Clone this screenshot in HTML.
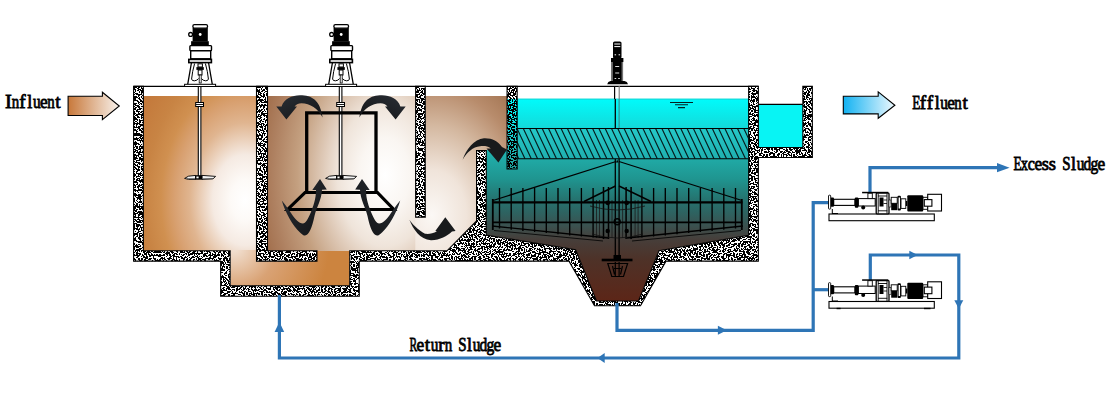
<!DOCTYPE html>
<html><head><meta charset="utf-8"><style>
html,body{margin:0;padding:0;background:#fff;width:1117px;height:415px;overflow:hidden}
svg{display:block}
text{font-family:"Liberation Serif",serif}
</style></head><body>
<svg width="1117" height="415" viewBox="0 0 1117 415">
<rect width="1117" height="415" fill="#fff"/>
<defs>
<radialGradient id="gT1" gradientUnits="userSpaceOnUse" cx="245" cy="200" r="120" gradientTransform="translate(245,200) scale(1,1.4) translate(-245,-200)">
 <stop offset="0" stop-color="#ffffff"/><stop offset="0.12" stop-color="#fdfaf7"/><stop offset="0.27" stop-color="#f5eae2"/>
 <stop offset="0.46" stop-color="#e0b590"/><stop offset="0.59" stop-color="#d8a070"/><stop offset="0.7" stop-color="#d09050"/>
 <stop offset="0.83" stop-color="#c88444"/><stop offset="1" stop-color="#c47a3c"/></radialGradient>
<radialGradient id="gSump" gradientUnits="userSpaceOnUse" cx="234" cy="246" r="95">
 <stop offset="0" stop-color="#f4e6da"/><stop offset="0.45" stop-color="#d9a274"/><stop offset="1" stop-color="#cc843f"/></radialGradient>
<radialGradient id="gT2" gradientUnits="userSpaceOnUse" cx="385" cy="175" r="125" gradientTransform="translate(385,175) scale(1,1.5) translate(-385,-175)">
 <stop offset="0" stop-color="#ffffff"/><stop offset="0.2" stop-color="#faf6f2"/><stop offset="0.38" stop-color="#efe4da"/>
 <stop offset="0.5" stop-color="#dfcab8"/><stop offset="0.7" stop-color="#c4a080"/><stop offset="0.9" stop-color="#ae8060"/><stop offset="1" stop-color="#a47250"/></radialGradient>
<radialGradient id="gT3" gradientUnits="userSpaceOnUse" cx="432" cy="215" r="115" gradientTransform="translate(432,215) scale(1,1.3) translate(-432,-215)">
 <stop offset="0" stop-color="#fbf8f5"/><stop offset="0.3" stop-color="#f0e4da"/><stop offset="0.6" stop-color="#d4b8a0"/>
 <stop offset="0.85" stop-color="#b88c6c"/><stop offset="1" stop-color="#a87a58"/></radialGradient>
<linearGradient id="gCl" gradientUnits="userSpaceOnUse" x1="0" y1="98" x2="0" y2="300">
 <stop offset="0" stop-color="#00fcfc"/><stop offset="0.14" stop-color="#12dcdc"/>
 <stop offset="0.3" stop-color="#20aaa6"/><stop offset="0.4" stop-color="#1f9590"/><stop offset="0.5" stop-color="#257470"/>
 <stop offset="0.57" stop-color="#2e6260"/><stop offset="0.63" stop-color="#3a5250"/><stop offset="0.7" stop-color="#463e3a"/>
 <stop offset="0.8" stop-color="#4e3228"/><stop offset="1" stop-color="#5c2618"/></linearGradient>
<linearGradient id="gHat" x1="0" y1="0" x2="0" y2="1"><stop offset="0" stop-color="#25c8c8"/><stop offset="1" stop-color="#1fb0b0"/></linearGradient>
<linearGradient id="gIn" x1="0" y1="0" x2="1" y2="0">
 <stop offset="0" stop-color="#c8783a"/><stop offset="1" stop-color="#f8f2ec"/></linearGradient>
<linearGradient id="gEf" x1="0" y1="0" x2="1" y2="0">
 <stop offset="0" stop-color="#12b2f2"/><stop offset="1" stop-color="#eef8fd"/></linearGradient>
<linearGradient id="gArr" x1="0" y1="0" x2="1" y2="1">
 <stop offset="0" stop-color="#2a2f36"/><stop offset="1" stop-color="#121315"/></linearGradient>
<filter id="nz" x="0" y="0" width="1117" height="415" filterUnits="userSpaceOnUse" color-interpolation-filters="sRGB">
 <feTurbulence type="fractalNoise" baseFrequency="0.6" numOctaves="2" seed="7" result="t"/>
 <feColorMatrix in="t" type="matrix" values="0 0 0 0 0  0 0 0 0 0  0 0 0 0 0  1 0 0 0 0.01"/>
 <feComponentTransfer><feFuncA type="discrete" tableValues="0 1"/></feComponentTransfer>
</filter>

<clipPath id="cw"><path d="M133.6,86.4 L143.35,86.4 L143.35,250.8 L230.15,250.8 L230.15,285.75 L349.75,285.75 L349.75,250.8 L447,250.8 L476.55,221 L476.55,150.65 L486.25,150.65 L486.25,235 L575.6,249.8 L596.5,301.05 L638.5,301.05 L659,250.8 L748.65,235.2 L748.65,86.4 L758.35,86.4 L758.35,147.55 L802.85,147.55 L802.85,86.4 L812.35,86.4 L812.35,157.55 L758.35,157.55 L758.35,261.15 L666,261.15 L640.5,305.75 L594.5,305.75 L569,261.15 L359.25,261.15 L359.25,296.25 L220.65,296.25 L220.65,261.15 L133.6,261.15 Z M256.5,86.4 L267.5,86.4 L267.5,250.8 L316.95,250.8 L316.95,261.15 L256.5,261.15 Z M415.65,86.4 L425.25,86.4 L425.25,217.15 L415.65,217.15 Z M507.05,86.4 L517.15,86.4 L517.15,169.05 L507.05,169.05 Z"/></clipPath>
</defs>
<rect x="143" y="96" width="114" height="155" fill="url(#gT1)"/>
<rect x="230.6" y="250" width="119" height="36" fill="url(#gSump)"/>
<rect x="267" y="96" width="149" height="155" fill="url(#gT2)"/>
<path d="M415.3,217.5 L425.7,217.5 L425.7,96 L507,96 L507,150 L476,150 L476,251 L415.3,251 Z" fill="url(#gT3)"/>
<path d="M486,150 L507.5,150 L507.5,98.8 L749,98.8 L749,235.2 L659,250.8 L638.5,301.5 L596.5,301.5 L575.6,249.8 L486,235 Z" fill="url(#gCl)"/><line x1="517" y1="99.1" x2="749" y2="99.1" stroke="#20c4c4" stroke-width="0.7"/>
<rect x="758" y="104.3" width="45" height="43" fill="#08f4f4"/>
<line x1="758" y1="104.3" x2="803" y2="104.3" stroke="#000" stroke-width="1.2"/>
<clipPath id="ch"><rect x="517.1" y="128.5" width="231.6" height="30.3"/></clipPath>
<rect x="517.1" y="128.5" width="231.6" height="30.3" fill="url(#gHat)"/>
<path clip-path="url(#ch)" d="M454.0,128.5 L468.3,158.8 M460.3,128.5 L474.6,158.8 M466.6,128.5 L480.9,158.8 M472.9,128.5 L487.2,158.8 M479.2,128.5 L493.5,158.8 M485.5,128.5 L499.8,158.8 M491.8,128.5 L506.1,158.8 M498.1,128.5 L512.4,158.8 M504.4,128.5 L518.7,158.8 M510.7,128.5 L525.0,158.8 M517.0,128.5 L531.3,158.8 M523.3,128.5 L537.6,158.8 M529.6,128.5 L543.9,158.8 M535.9,128.5 L550.2,158.8 M542.2,128.5 L556.5,158.8 M548.5,128.5 L562.8,158.8 M554.8,128.5 L569.1,158.8 M561.1,128.5 L575.4,158.8 M567.4,128.5 L581.7,158.8 M573.7,128.5 L588.0,158.8 M580.0,128.5 L594.3,158.8 M586.3,128.5 L600.6,158.8 M592.6,128.5 L606.9,158.8 M598.9,128.5 L613.2,158.8 M605.2,128.5 L619.5,158.8 M611.5,128.5 L625.8,158.8 M617.8,128.5 L632.1,158.8 M624.1,128.5 L638.4,158.8 M630.4,128.5 L644.7,158.8 M636.7,128.5 L651.0,158.8 M643.0,128.5 L657.3,158.8 M649.3,128.5 L663.6,158.8 M655.6,128.5 L669.9,158.8 M661.9,128.5 L676.2,158.8 M668.2,128.5 L682.5,158.8 M674.5,128.5 L688.8,158.8 M680.8,128.5 L695.1,158.8 M687.1,128.5 L701.4,158.8 M693.4,128.5 L707.7,158.8 M699.7,128.5 L714.0,158.8 M706.0,128.5 L720.3,158.8 M712.3,128.5 L726.6,158.8 M718.6,128.5 L732.9,158.8 M724.9,128.5 L739.2,158.8 M731.2,128.5 L745.5,158.8 M737.5,128.5 L751.8,158.8 M743.8,128.5 L758.1,158.8 M750.1,128.5 L764.4,158.8 M756.4,128.5 L770.7,158.8 M762.7,128.5 L777.0,158.8 M769.0,128.5 L783.3,158.8 M775.3,128.5 L789.6,158.8 M781.6,128.5 L795.9,158.8 M787.9,128.5 L802.2,158.8 M794.2,128.5 L808.5,158.8 M800.5,128.5 L814.8,158.8 M806.8,128.5 L821.1,158.8 M813.1,128.5 L827.4,158.8 M819.4,128.5 L833.7,158.8 M825.7,128.5 L840.0,158.8 M832.0,128.5 L846.3,158.8 M838.3,128.5 L852.6,158.8 M844.6,128.5 L858.9,158.8 M850.9,128.5 L865.2,158.8 M857.2,128.5 L871.5,158.8 M863.5,128.5 L877.8,158.8 M869.8,128.5 L884.1,158.8 M876.1,128.5 L890.4,158.8 M882.4,128.5 L896.7,158.8 M888.7,128.5 L903.0,158.8" stroke="#061c1c" stroke-width="1.15" fill="none"/>
<line x1="517.5" y1="128.5" x2="748" y2="128.5" stroke="#000" stroke-width="1.1"/>
<line x1="517.5" y1="158.8" x2="748" y2="158.8" stroke="#000" stroke-width="1.1"/>
<path d="M133.6,86.4 L143.35,86.4 L143.35,250.8 L230.15,250.8 L230.15,285.75 L349.75,285.75 L349.75,250.8 L447,250.8 L476.55,221 L476.55,150.65 L486.25,150.65 L486.25,235 L575.6,249.8 L596.5,301.05 L638.5,301.05 L659,250.8 L748.65,235.2 L748.65,86.4 L758.35,86.4 L758.35,147.55 L802.85,147.55 L802.85,86.4 L812.35,86.4 L812.35,157.55 L758.35,157.55 L758.35,261.15 L666,261.15 L640.5,305.75 L594.5,305.75 L569,261.15 L359.25,261.15 L359.25,296.25 L220.65,296.25 L220.65,261.15 L133.6,261.15 Z M256.5,86.4 L267.5,86.4 L267.5,250.8 L316.95,250.8 L316.95,261.15 L256.5,261.15 Z M415.65,86.4 L425.25,86.4 L425.25,217.15 L415.65,217.15 Z" fill="#fff"/>
<rect x="507" y="86.4" width="10.2" height="12.4" fill="#fff"/>
<g clip-path="url(#cw)"><rect x="0" y="0" width="1117" height="415" filter="url(#nz)"/></g>
<path d="M133.6,86.4 L143.35,86.4 L143.35,250.8 L230.15,250.8 L230.15,285.75 L349.75,285.75 L349.75,250.8 L447,250.8 L476.55,221 L476.55,150.65 L486.25,150.65 L486.25,235 L575.6,249.8 L596.5,301.05 L638.5,301.05 L659,250.8 L748.65,235.2 L748.65,86.4 L758.35,86.4 L758.35,147.55 L802.85,147.55 L802.85,86.4 L812.35,86.4 L812.35,157.55 L758.35,157.55 L758.35,261.15 L666,261.15 L640.5,305.75 L594.5,305.75 L569,261.15 L359.25,261.15 L359.25,296.25 L220.65,296.25 L220.65,261.15 L133.6,261.15 Z M256.5,86.4 L267.5,86.4 L267.5,250.8 L316.95,250.8 L316.95,261.15 L256.5,261.15 Z M415.65,86.4 L425.25,86.4 L425.25,217.15 L415.65,217.15 Z M507.05,86.4 L517.15,86.4 L517.15,169.05 L507.05,169.05 Z" fill="none" stroke="#000" stroke-width="1.1"/>
<line x1="133.6" y1="86.35" x2="758.35" y2="86.35" stroke="#000" stroke-width="1.3"/>
<g transform="translate(0,0)"><circle cx="190.6" cy="34.4" r="1.9" fill="#fff" stroke="#000" stroke-width="1.3"/><rect x="192.6" y="28" width="15.2" height="13.5" fill="#000"/><rect x="191.1" y="41.2" width="17.7" height="3.9" fill="#000"/><rect x="192.9" y="24.6" width="14.6" height="3.6" rx="1.4" fill="#fff" stroke="#000" stroke-width="1.3"/><circle cx="200.2" cy="34.5" r="1.4" fill="#fff"/><rect x="189.9" y="45.6" width="21.6" height="5" rx="0.8" fill="#fff" stroke="#000" stroke-width="1.4"/><rect x="190.7" y="50.8" width="20" height="8" fill="#fff" stroke="#000" stroke-width="1.4"/><rect x="188.8" y="59.4" width="22.6" height="3.2" fill="#fff" stroke="#000" stroke-width="1.6"/><path d="M191.4,63 L187.7,84.3 M208.6,63 L212.3,84.3" stroke="#000" stroke-width="1.3" fill="none"/><path d="M194.6,63.5 Q192.2,72 191.6,79 Q191.8,81 194.5,80.8 Q197.2,80.6 198.6,78.5 M205.4,63.5 Q207.8,72 208.4,79 Q208.2,81 205.5,80.8 Q202.8,80.6 201.4,78.5" stroke="#000" stroke-width="1" fill="none"/><rect x="198" y="63.8" width="4.4" height="3.2" fill="#fff" stroke="#000" stroke-width="1"/><rect x="196.4" y="67.1" width="7.4" height="2.8" fill="#000"/><rect x="198.2" y="70" width="3.8" height="5" fill="#fff" stroke="#000" stroke-width="1"/><rect x="199.2" y="75" width="2" height="8" fill="#fff" stroke="#000" stroke-width="0.8"/><rect x="184.6" y="84.3" width="31" height="2.2" fill="#fff" stroke="#000" stroke-width="1"/><rect x="198" y="87" width="3.2" height="90" fill="#fff"/><path d="M198.3,87 V177 M200.9,87 V177" stroke="#000" stroke-width="1.1"/><rect x="195.7" y="102.5" width="7.8" height="4" fill="#fff" stroke="#000" stroke-width="1"/><line x1="195.7" y1="104.5" x2="203.5" y2="104.5" stroke="#000" stroke-width="0.9"/><path d="M184.6,178.4 L188.5,176.2 L195.5,175.4 V179.4 H188.5 Z M202,175.4 L209,175.9 L215.6,176.4 L213,178.8 L202,179.4 Z" fill="#f2f2f2" stroke="#000" stroke-width="0.9" stroke-linejoin="round"/><path d="M187,178.6 H195 M203,178.8 H212.5" stroke="#555" stroke-width="0.8"/><rect x="195.2" y="175.2" width="7" height="4.5" fill="#000"/><rect x="196.4" y="176.5" width="2.2" height="1.8" fill="#fff"/></g>
<g transform="translate(141,0)"><circle cx="190.6" cy="34.4" r="1.9" fill="#fff" stroke="#000" stroke-width="1.3"/><rect x="192.6" y="28" width="15.2" height="13.5" fill="#000"/><rect x="191.1" y="41.2" width="17.7" height="3.9" fill="#000"/><rect x="192.9" y="24.6" width="14.6" height="3.6" rx="1.4" fill="#fff" stroke="#000" stroke-width="1.3"/><circle cx="200.2" cy="34.5" r="1.4" fill="#fff"/><rect x="189.9" y="45.6" width="21.6" height="5" rx="0.8" fill="#fff" stroke="#000" stroke-width="1.4"/><rect x="190.7" y="50.8" width="20" height="8" fill="#fff" stroke="#000" stroke-width="1.4"/><rect x="188.8" y="59.4" width="22.6" height="3.2" fill="#fff" stroke="#000" stroke-width="1.6"/><path d="M191.4,63 L187.7,84.3 M208.6,63 L212.3,84.3" stroke="#000" stroke-width="1.3" fill="none"/><path d="M194.6,63.5 Q192.2,72 191.6,79 Q191.8,81 194.5,80.8 Q197.2,80.6 198.6,78.5 M205.4,63.5 Q207.8,72 208.4,79 Q208.2,81 205.5,80.8 Q202.8,80.6 201.4,78.5" stroke="#000" stroke-width="1" fill="none"/><rect x="198" y="63.8" width="4.4" height="3.2" fill="#fff" stroke="#000" stroke-width="1"/><rect x="196.4" y="67.1" width="7.4" height="2.8" fill="#000"/><rect x="198.2" y="70" width="3.8" height="5" fill="#fff" stroke="#000" stroke-width="1"/><rect x="199.2" y="75" width="2" height="8" fill="#fff" stroke="#000" stroke-width="0.8"/><rect x="184.6" y="84.3" width="31" height="2.2" fill="#fff" stroke="#000" stroke-width="1"/><rect x="198" y="87" width="3.2" height="90" fill="#fff"/><path d="M198.3,87 V177 M200.9,87 V177" stroke="#000" stroke-width="1.1"/><rect x="195.7" y="102.5" width="7.8" height="4" fill="#fff" stroke="#000" stroke-width="1"/><line x1="195.7" y1="104.5" x2="203.5" y2="104.5" stroke="#000" stroke-width="0.9"/><path d="M184.6,178.4 L188.5,176.2 L195.5,175.4 V179.4 H188.5 Z M202,175.4 L209,175.9 L215.6,176.4 L213,178.8 L202,179.4 Z" fill="#f2f2f2" stroke="#000" stroke-width="0.9" stroke-linejoin="round"/><path d="M187,178.6 H195 M203,178.8 H212.5" stroke="#555" stroke-width="0.8"/><rect x="195.2" y="175.2" width="7" height="4.5" fill="#000"/><rect x="196.4" y="176.5" width="2.2" height="1.8" fill="#fff"/></g>
<path d="M306.7,192.6 V112.8 H376 V192.6" fill="none" stroke="#000" stroke-width="3.3"/>
<path d="M305,192.6 H377.5 L394,209.6 H287.5 Z" fill="none" stroke="#000" stroke-width="3" stroke-linejoin="miter"/>
<path d="M322.6,117.5 C320,100 312,95.3 300,95.3 C292,95.3 284,99 281.6,106.4 L276.3,106.4 L286.4,119.4 L297,106.4 L294.5,106.4 C296.5,104 298.5,103.2 301.5,103.2 C310,103.2 318,108.5 322.6,117.5 Z" fill="url(#gArr)"/>
<path d="M322.6,117.5 C320,100 312,95.3 300,95.3 C292,95.3 284,99 281.6,106.4 L276.3,106.4 L286.4,119.4 L297,106.4 L294.5,106.4 C296.5,104 298.5,103.2 301.5,103.2 C310,103.2 318,108.5 322.6,117.5 Z" fill="url(#gArr)" transform="matrix(-1,0,0,1,682,0)"/>
<path d="M281.8,200.4 C285,212 293,226 300,232.5 C302,234.5 303.5,235.6 305,235.6 C309,235 312,228 314.5,216 C316.5,207 321.5,200 322,189.7 L326.8,189.5 L320,179 L312.3,189.9 L316,189.9 C316,200 313,206 311,212 C308,219 305.5,223.5 302.9,223.5 C299,223.5 295,219 291,213 C287,207 284,203 281.8,200.4 Z" fill="url(#gArr)"/>
<path d="M281.8,200.4 C285,212 293,226 300,232.5 C302,234.5 303.5,235.6 305,235.6 C309,235 312,228 314.5,216 C316.5,207 321.5,200 322,189.7 L326.8,189.5 L320,179 L312.3,189.9 L316,189.9 C316,200 313,206 311,212 C308,219 305.5,223.5 302.9,223.5 C299,223.5 295,219 291,213 C287,207 284,203 281.8,200.4 Z" fill="url(#gArr)" transform="matrix(-1,0,0,1,682,0)"/>
<path d="M409.3,219.6 C413,229 420,240 431,240.2 C440,240.3 447,236 452,231.5 L455.6,231.1 L445.3,217.2 L435.3,231.1 L437,231.3 C433,233.5 429,234.3 425,233.8 C418,230 412,224 409.3,219.6 Z" fill="#181a1c"/>
<path d="M462.6,159.8 C466,150 474,139 484,138.3 C492,138 498,141 502,147 L507,149.5 L498.4,162.5 L486.5,148.5 L490.8,148.4 C488,146 484,145.8 480,146.2 C473,147 467,152 462.6,159.8 Z" fill="#181a1c"/>
<path d="M614.6,86 V99" stroke="#000" stroke-width="1.2"/><path d="M619.2,86 V99" stroke="#777" stroke-width="1.1"/>
<path d="M607.2,84.2 Q607.8,81.4 610.5,81 H624.5 Q627.4,81.4 628,84.2 Z" fill="#000"/>
<rect x="611" y="58" width="12.4" height="4" fill="#000"/>
<rect x="612.4" y="61.5" width="9.4" height="20" fill="#000"/>
<path d="M611.6,62 V81 M622.6,62 V81" stroke="#555" stroke-width="0.9"/>
<rect x="613" y="41.5" width="8.5" height="17" rx="1.6" fill="#000"/>
<path d="M614.3,44 h6 M614.3,46.6 h6" stroke="#fff" stroke-width="1"/>
<path d="M614.6,54.8 h1.5 M618.6,54.8 h1.5" stroke="#fff" stroke-width="1"/>
<path d="M615.2,66.5 h4 M615.2,73 h4 M614.6,78.5 h1.6 M618.2,78.5 h1.6" stroke="#ddd" stroke-width="1.1"/>
<path d="M670,102.5 H693 M675,104.8 H688 M678,107.6 H685" stroke="#062020" stroke-width="1.1"/>
<g stroke="#000" fill="none"><path d="M615.3,99 V128 M615.3,159 V258 M619.1,159 V258" stroke-width="1.3"/><path d="M619.1,99 V128" stroke="#3a8a8a" stroke-width="1.1"/><path d="M616,161.5 L493,200.5 M619,161.5 L742,200.5" stroke-width="1.25"/><path d="M615.5,186 L584,201.5 M619,186 L651,201.5" stroke-width="1.4"/><path d="M499.5,188 V228.6 M735.5,188 V228.6 M511.2,188 V229.8 M723.8,188 V229.8 M522.9,188 V230.9 M712.1,188 V230.9 M534.6,188 V232.0 M700.4,188 V232.0 M546.3,188 V233.1 M688.7,188 V233.1 M558.0,188 V234.3 M677.0,188 V234.3 M569.7,188 V235.4 M665.3,188 V235.4 M581.4,188 V236.5 M653.6,188 V236.5 M593.1,188 V237.6 M641.9,188 V237.6" stroke-width="1.35"/><path d="M603.5,187 V239 M631.1,187 V239 M608.5,187 V239 M626.1,187 V239" stroke-width="1.5"/><path d="M596.5,200 V238 M638.1,200 V238 M599.5,200 V238 M635.1,200 V238 M612.0,200 V238 M622.6,200 V238" stroke="#1a1a1a" stroke-width="0.8"/><path d="M590,206 Q617,214 645,206 M592,234 Q617,242 643,234" stroke="#111" stroke-width="0.8"/><path d="M492,202.4 H742.5" stroke-width="2.3"/><path d="M492,222.4 H742.5" stroke-width="1.8"/><path d="M492.8,199 V230 M741.8,199 V230" stroke-width="1.8"/><path d="M492,226 L608,238 M743,226 L627,238" stroke-width="1.3"/><path d="M494,230.5 L603,241 M741,230.5 L632,241" stroke-width="0.8"/><circle cx="617.2" cy="221.8" r="3" stroke-width="1.4"/></g><path d="M616,162.5 L617.2,159.5 L618.4,162.5 Z" fill="#000"/><circle cx="607.7" cy="202.8" r="2.4" fill="#000"/><circle cx="626.7" cy="202.8" r="2.4" fill="#000"/><circle cx="607.7" cy="231" r="2.2" fill="#000"/><circle cx="626.7" cy="231" r="2.2" fill="#000"/><rect x="601.7" y="258.7" width="30.8" height="2.6" fill="#000"/><rect x="613.5" y="255" width="7.5" height="4" fill="#000"/><path d="M607.8,263.5 H627.6 L623.5,276.5 H611.8 Z M612.5,266 L614.5,274.5 M622.5,266 L620.5,274.5 M615.3,262 V276 M619.1,262 V276 M614,268.5 H621" fill="none" stroke="#000" stroke-width="1.2"/>
<path d="M68.1,96.3 H102.4 V92.2 L119.3,106 L102.4,119.6 V115.5 H68.1 Z" fill="url(#gIn)" stroke="#000" stroke-width="1.1"/>
<path d="M843.3,96.3 H878.2 V91.8 L894.9,105.3 L878.2,118.3 V113.9 H843.3 Z" fill="url(#gEf)" stroke="#000" stroke-width="1.1"/>
<g fill="none" stroke="#2E75B6" stroke-width="3.2" stroke-linejoin="miter"><path d="M617,303 V330.3 H813.2 V202.7 H829"/><path d="M813.2,289.7 H829"/><path d="M870,192 V167.7 H999"/><path d="M870.3,280 V255 H958.8 V358 H279.4 V295"/></g><g fill="#2E75B6"><path d="M717.9,325.8 L726.8,330.3 L717.9,334.8 Z"/><path d="M909.3,250.8 L917.7,255 L909.3,259.2 Z"/><path d="M954.3,300.3 L958.8,308.8 L963.3,300.3 Z"/><path d="M604.7,353.1 L597.5,358 L604.7,362.9 Z"/><path d="M274.6,332 L279.4,321.9 L284.2,332 Z"/><path d="M997,163.1 L1009.6,167.7 L997,172.3 Z"/></g>
<g transform="translate(0,0)"><rect x="829" y="214" width="105.3" height="6.7" fill="#fff" stroke="#000" stroke-width="1.1"/><path d="M832.3,209 V214 M832,213.5 H838" stroke="#000" stroke-width="1"/><rect x="833.7" y="199.3" width="21.2" height="6.1" fill="#fff" stroke="#000" stroke-width="1.1"/><rect x="830.4" y="197.5" width="3.6" height="9.3" rx="1" fill="#000"/><rect x="828.5" y="195.2" width="2.2" height="13.9" rx="0.8" fill="#fff" stroke="#000" stroke-width="0.9"/><rect x="854.8" y="197.5" width="3.6" height="10.2" rx="1" fill="#000"/><rect x="858.4" y="198.6" width="16.8" height="7.4" fill="#fff" stroke="#000" stroke-width="1"/><circle cx="863.2" cy="207.6" r="2" fill="#000"/><rect x="867.9" y="193.2" width="4.4" height="5.4" fill="#fff" stroke="#000" stroke-width="0.9"/><rect x="862.1" y="191.8" width="26.2" height="1.5" fill="#000"/><rect x="876.2" y="193.2" width="12.8" height="20.7" rx="0.8" fill="#fff" stroke="#000" stroke-width="1.3"/><path d="M878.2,193.5 V213.5 M887,193.5 V213.5 M878,210.8 H887.3 M878,196 H887" stroke="#000" stroke-width="0.9"/><rect x="879.5" y="197.5" width="4" height="9" fill="#000"/><path d="M883.5,200 H887 M883.5,203.5 H887" stroke="#000" stroke-width="0.8"/><rect x="889" y="200" width="2" height="7" fill="#fff" stroke="#000" stroke-width="0.6"/><rect x="891.2" y="197.3" width="6" height="6" fill="#fff" stroke="#000" stroke-width="0.9"/><rect x="891.2" y="203.2" width="6" height="7" fill="#000"/><rect x="897.5" y="195.8" width="3.4" height="14.6" rx="1" fill="#000"/><rect x="898.6" y="197.5" width="1.4" height="11" fill="#fff"/><rect x="901" y="198.8" width="4.8" height="9.6" fill="#fff" stroke="#000" stroke-width="0.9"/><rect x="905.8" y="201" width="1.6" height="5" fill="#000"/><rect x="907.3" y="195.2" width="15.9" height="16.3" rx="1" fill="#000"/><rect x="923" y="197.3" width="5" height="12" fill="#fff" stroke="#000" stroke-width="0.9"/><rect x="927.7" y="194.3" width="13.8" height="16.7" fill="#fff" stroke="#000" stroke-width="1.1"/><rect x="924.3" y="199.6" width="7.6" height="6.6" fill="#fff" stroke="#000" stroke-width="1.1"/></g>
<g transform="translate(0,87.5)"><rect x="829" y="214" width="105.3" height="6.7" fill="#fff" stroke="#000" stroke-width="1.1"/><path d="M832.3,209 V214 M832,213.5 H838" stroke="#000" stroke-width="1"/><rect x="833.7" y="199.3" width="21.2" height="6.1" fill="#fff" stroke="#000" stroke-width="1.1"/><rect x="830.4" y="197.5" width="3.6" height="9.3" rx="1" fill="#000"/><rect x="828.5" y="195.2" width="2.2" height="13.9" rx="0.8" fill="#fff" stroke="#000" stroke-width="0.9"/><rect x="854.8" y="197.5" width="3.6" height="10.2" rx="1" fill="#000"/><rect x="858.4" y="198.6" width="16.8" height="7.4" fill="#fff" stroke="#000" stroke-width="1"/><circle cx="863.2" cy="207.6" r="2" fill="#000"/><rect x="867.9" y="193.2" width="4.4" height="5.4" fill="#fff" stroke="#000" stroke-width="0.9"/><rect x="862.1" y="191.8" width="26.2" height="1.5" fill="#000"/><rect x="876.2" y="193.2" width="12.8" height="20.7" rx="0.8" fill="#fff" stroke="#000" stroke-width="1.3"/><path d="M878.2,193.5 V213.5 M887,193.5 V213.5 M878,210.8 H887.3 M878,196 H887" stroke="#000" stroke-width="0.9"/><rect x="879.5" y="197.5" width="4" height="9" fill="#000"/><path d="M883.5,200 H887 M883.5,203.5 H887" stroke="#000" stroke-width="0.8"/><rect x="889" y="200" width="2" height="7" fill="#fff" stroke="#000" stroke-width="0.6"/><rect x="891.2" y="197.3" width="6" height="6" fill="#fff" stroke="#000" stroke-width="0.9"/><rect x="891.2" y="203.2" width="6" height="7" fill="#000"/><rect x="897.5" y="195.8" width="3.4" height="14.6" rx="1" fill="#000"/><rect x="898.6" y="197.5" width="1.4" height="11" fill="#fff"/><rect x="901" y="198.8" width="4.8" height="9.6" fill="#fff" stroke="#000" stroke-width="0.9"/><rect x="905.8" y="201" width="1.6" height="5" fill="#000"/><rect x="907.3" y="195.2" width="15.9" height="16.3" rx="1" fill="#000"/><rect x="923" y="197.3" width="5" height="12" fill="#fff" stroke="#000" stroke-width="0.9"/><rect x="927.7" y="194.3" width="13.8" height="16.7" fill="#fff" stroke="#000" stroke-width="1.1"/><rect x="924.3" y="199.6" width="7.6" height="6.6" fill="#fff" stroke="#000" stroke-width="1.1"/></g>
<rect x="836.6" y="307.8" width="4" height="1.4" fill="#000"/><rect x="924" y="307.8" width="6.5" height="1.4" fill="#000"/>
<text x="5.05" y="107.7" font-size="19.4" textLength="6.87" lengthAdjust="spacingAndGlyphs" font-weight="normal" stroke="#000" stroke-width="0.8">I</text><text x="11.78" y="107.7" font-size="19.4" textLength="7.47" lengthAdjust="spacingAndGlyphs" font-weight="normal" stroke="#000" stroke-width="0.8">n</text><text x="19.15" y="107.7" font-size="19.4" textLength="6.39" lengthAdjust="spacingAndGlyphs" font-weight="normal" stroke="#000" stroke-width="0.8">f</text><text x="27.20" y="107.7" font-size="19.4" textLength="5.02" lengthAdjust="spacingAndGlyphs" font-weight="normal" stroke="#000" stroke-width="0.8">l</text><text x="32.98" y="107.7" font-size="19.4" textLength="7.66" lengthAdjust="spacingAndGlyphs" font-weight="normal" stroke="#000" stroke-width="0.8">u</text><text x="39.97" y="107.7" font-size="19.4" textLength="7.67" lengthAdjust="spacingAndGlyphs" font-weight="normal" stroke="#000" stroke-width="0.8">e</text><text x="47.13" y="107.7" font-size="19.4" textLength="7.47" lengthAdjust="spacingAndGlyphs" font-weight="normal" stroke="#000" stroke-width="0.8">n</text><text x="55.30" y="107.7" font-size="19.4" textLength="5.30" lengthAdjust="spacingAndGlyphs" font-weight="normal" stroke="#000" stroke-width="0.8">t</text>
<text x="912.22" y="109.1" font-size="19.4" textLength="8.15" lengthAdjust="spacingAndGlyphs" font-weight="normal" stroke="#000" stroke-width="0.8">E</text><text x="919.66" y="109.1" font-size="19.4" textLength="6.39" lengthAdjust="spacingAndGlyphs" font-weight="normal" stroke="#000" stroke-width="0.8">f</text><text x="926.66" y="109.1" font-size="19.4" textLength="6.39" lengthAdjust="spacingAndGlyphs" font-weight="normal" stroke="#000" stroke-width="0.8">f</text><text x="934.64" y="109.1" font-size="19.4" textLength="5.02" lengthAdjust="spacingAndGlyphs" font-weight="normal" stroke="#000" stroke-width="0.8">l</text><text x="940.35" y="109.1" font-size="19.4" textLength="7.66" lengthAdjust="spacingAndGlyphs" font-weight="normal" stroke="#000" stroke-width="0.8">u</text><text x="947.27" y="109.1" font-size="19.4" textLength="7.67" lengthAdjust="spacingAndGlyphs" font-weight="normal" stroke="#000" stroke-width="0.8">e</text><text x="954.36" y="109.1" font-size="19.4" textLength="7.47" lengthAdjust="spacingAndGlyphs" font-weight="normal" stroke="#000" stroke-width="0.8">n</text><text x="962.46" y="109.1" font-size="19.4" textLength="5.30" lengthAdjust="spacingAndGlyphs" font-weight="normal" stroke="#000" stroke-width="0.8">t</text>
<text x="1013.52" y="169.6" font-size="19.4" textLength="8.15" lengthAdjust="spacingAndGlyphs" font-weight="normal" stroke="#000" stroke-width="0.8">E</text><text x="1021.03" y="169.6" font-size="19.4" textLength="6.89" lengthAdjust="spacingAndGlyphs" font-weight="normal" stroke="#000" stroke-width="0.8">x</text><text x="1027.84" y="169.6" font-size="19.4" textLength="7.10" lengthAdjust="spacingAndGlyphs" font-weight="normal" stroke="#000" stroke-width="0.8">c</text><text x="1034.57" y="169.6" font-size="19.4" textLength="7.67" lengthAdjust="spacingAndGlyphs" font-weight="normal" stroke="#000" stroke-width="0.8">e</text><text x="1041.79" y="169.6" font-size="19.4" textLength="7.23" lengthAdjust="spacingAndGlyphs" font-weight="normal" stroke="#000" stroke-width="0.8">s</text><text x="1048.79" y="169.6" font-size="19.4" textLength="7.23" lengthAdjust="spacingAndGlyphs" font-weight="normal" stroke="#000" stroke-width="0.8">s</text><text x="1062.25" y="169.6" font-size="19.4" textLength="8.33" lengthAdjust="spacingAndGlyphs" font-weight="normal" stroke="#000" stroke-width="0.8">S</text><text x="1070.94" y="169.6" font-size="19.4" textLength="5.02" lengthAdjust="spacingAndGlyphs" font-weight="normal" stroke="#000" stroke-width="0.8">l</text><text x="1076.65" y="169.6" font-size="19.4" textLength="7.66" lengthAdjust="spacingAndGlyphs" font-weight="normal" stroke="#000" stroke-width="0.8">u</text><text x="1083.39" y="169.6" font-size="19.4" textLength="7.75" lengthAdjust="spacingAndGlyphs" font-weight="normal" stroke="#000" stroke-width="0.8">d</text><text x="1090.38" y="169.6" font-size="19.4" textLength="7.76" lengthAdjust="spacingAndGlyphs" font-weight="normal" stroke="#000" stroke-width="0.8">g</text><text x="1097.57" y="169.6" font-size="19.4" textLength="7.67" lengthAdjust="spacingAndGlyphs" font-weight="normal" stroke="#000" stroke-width="0.8">e</text>
<text x="409.47" y="351.2" font-size="19.4" textLength="7.65" lengthAdjust="spacingAndGlyphs" font-weight="normal" stroke="#000" stroke-width="0.8">R</text><text x="416.57" y="351.2" font-size="19.4" textLength="7.67" lengthAdjust="spacingAndGlyphs" font-weight="normal" stroke="#000" stroke-width="0.8">e</text><text x="424.76" y="351.2" font-size="19.4" textLength="5.30" lengthAdjust="spacingAndGlyphs" font-weight="normal" stroke="#000" stroke-width="0.8">t</text><text x="430.65" y="351.2" font-size="19.4" textLength="7.66" lengthAdjust="spacingAndGlyphs" font-weight="normal" stroke="#000" stroke-width="0.8">u</text><text x="438.17" y="351.2" font-size="19.4" textLength="6.35" lengthAdjust="spacingAndGlyphs" font-weight="normal" stroke="#000" stroke-width="0.8">r</text><text x="444.66" y="351.2" font-size="19.4" textLength="7.47" lengthAdjust="spacingAndGlyphs" font-weight="normal" stroke="#000" stroke-width="0.8">n</text><text x="458.25" y="351.2" font-size="19.4" textLength="8.33" lengthAdjust="spacingAndGlyphs" font-weight="normal" stroke="#000" stroke-width="0.8">S</text><text x="466.94" y="351.2" font-size="19.4" textLength="5.02" lengthAdjust="spacingAndGlyphs" font-weight="normal" stroke="#000" stroke-width="0.8">l</text><text x="472.65" y="351.2" font-size="19.4" textLength="7.66" lengthAdjust="spacingAndGlyphs" font-weight="normal" stroke="#000" stroke-width="0.8">u</text><text x="479.39" y="351.2" font-size="19.4" textLength="7.75" lengthAdjust="spacingAndGlyphs" font-weight="normal" stroke="#000" stroke-width="0.8">d</text><text x="486.38" y="351.2" font-size="19.4" textLength="7.76" lengthAdjust="spacingAndGlyphs" font-weight="normal" stroke="#000" stroke-width="0.8">g</text><text x="493.57" y="351.2" font-size="19.4" textLength="7.67" lengthAdjust="spacingAndGlyphs" font-weight="normal" stroke="#000" stroke-width="0.8">e</text>
</svg>
</body></html>
